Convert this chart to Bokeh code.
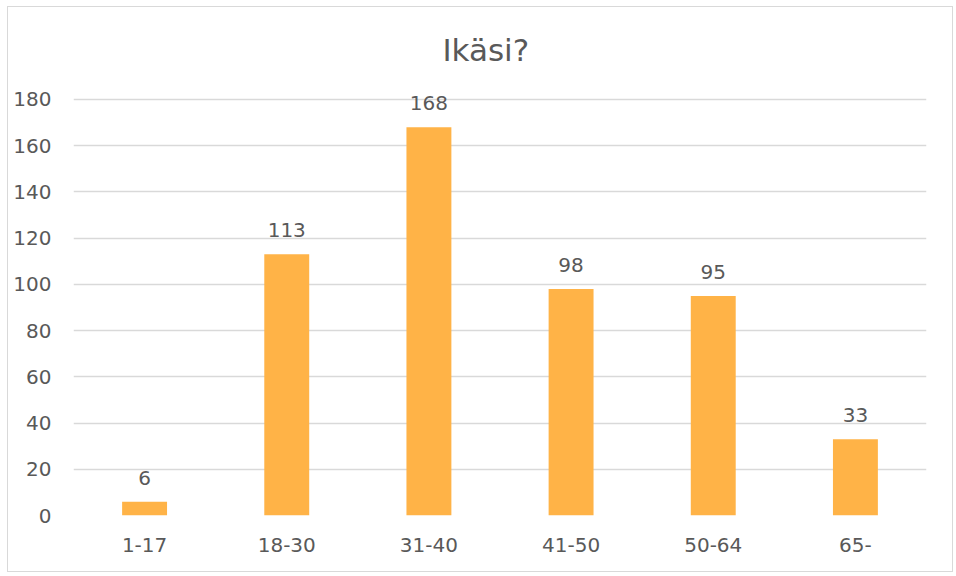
from bokeh.plotting import figure
from bokeh.models import ColumnDataSource, FixedTicker, Range1d, Label
from bokeh.core.properties import value
from bokeh.embed import file_html
from bokeh.resources import INLINE

categories = ["1-17", "18-30", "31-40", "41-50", "50-64", "65-"]
counts = [6, 113, 168, 98, 95, 33]
y_ticks = [0, 20, 40, 60, 80, 100, 120, 140, 160, 180]
title_text = "Ikäsi?"

FONT = "DejaVu Sans"
TXT = "#595959"
GRID = "#d9d9d9"
BAR = "#FFB347"

xs = [i + 0.5 for i in range(len(categories))]
src = ColumnDataSource(dict(x=xs, top=counts, lab=[str(c) for c in counts]))

p = figure(width=946, height=566, output_backend="svg", toolbar_location=None,
           x_range=Range1d(0, len(categories)), y_range=Range1d(0, 219.8),
           min_border_left=65, min_border_right=28, min_border_top=0, min_border_bottom=58)
p.styles = {"border": "1px solid #d9d9d9", "margin-left": "7px", "margin-top": "6px"}
p.outline_line_color = None
p.background_fill_color = "white"
p.border_fill_color = "white"

p.vbar(x="x", top="top", width=0.316, bottom=0, source=src, fill_color=BAR, line_color=None)
p.text(x="x", y="top", text="lab", source=src, text_align="center", text_baseline="alphabetic",
       y_offset=-24, text_font=value(FONT), text_font_size="20px", text_color=TXT)

p.add_layout(Label(x=2.9, y=201.2, text=title_text, text_align="center", text_baseline="alphabetic",
                   text_font=FONT, text_font_size="31px", text_color=TXT))

p.xgrid.visible = False
p.ygrid.ticker = FixedTicker(ticks=y_ticks)
p.ygrid.grid_line_color = GRID
p.ygrid.grid_line_width = 1.3

p.yaxis.ticker = FixedTicker(ticks=y_ticks)
p.xaxis.ticker = FixedTicker(ticks=xs)
p.xaxis.major_label_overrides = {x: c for x, c in zip(xs, categories)}
for ax in (p.xaxis, p.yaxis):
    ax.axis_line_color = None
    ax.major_tick_line_color = None
    ax.minor_tick_line_color = None
    ax.major_tick_out = 0
    ax.major_label_text_font = FONT
    ax.major_label_text_font_size = "20px"
    ax.major_label_text_color = TXT
p.yaxis.major_label_standoff = 22
p.xaxis.major_label_standoff = 22

open("out.html", "w").write(file_html(p, INLINE))
